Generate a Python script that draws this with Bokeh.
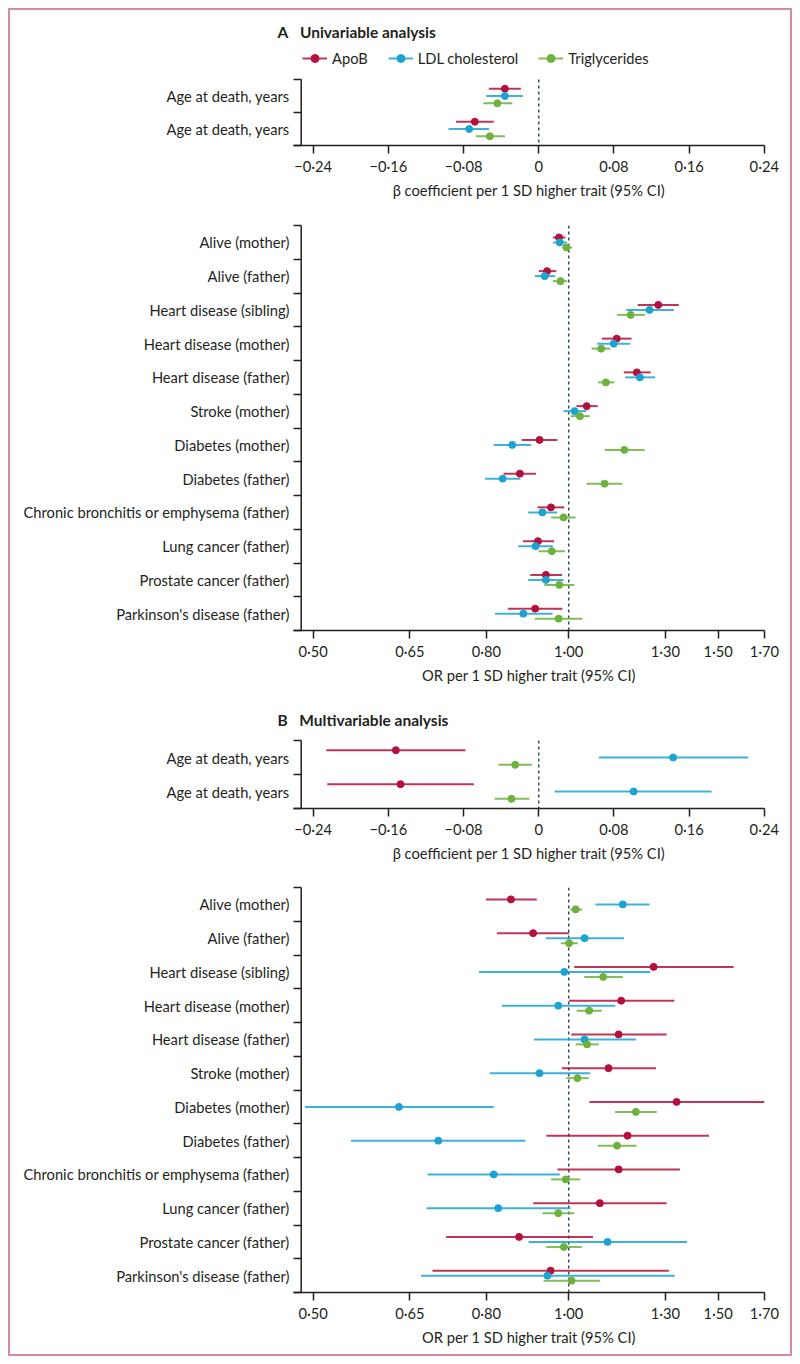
import math
from bokeh.plotting import figure
from bokeh.models import Range1d, FixedTicker, Legend, LegendItem, ColumnDataSource
from bokeh.layouts import column
from bokeh.embed import file_html
from bokeh.resources import INLINE

# ---------------- data ----------------
series_names = ["ApoB", "LDL cholesterol", "Triglycerides"]

age_categories = ["Age at death, years", "Age at death, years"]
or_categories = [
    "Alive (mother)", "Alive (father)", "Heart disease (sibling)",
    "Heart disease (mother)", "Heart disease (father)", "Stroke (mother)",
    "Diabetes (mother)", "Diabetes (father)",
    "Chronic bronchitis or emphysema (father)", "Lung cancer (father)",
    "Prostate cancer (father)", "Parkinson's disease (father)",
]

beta_ticks = [-0.24, -0.16, -0.08, 0.0, 0.08, 0.16, 0.24]
beta_tick_labels = ["−0·24", "−0·16", "−0·08", "0", "0·08", "0·16", "0·24"]
or_ticks = [0.5, 0.65, 0.8, 1.0, 1.3, 1.5, 1.7]
or_tick_labels = ["0·50", "0·65", "0·80", "1·00", "1·30", "1·50", "1·70"]

# A: univariable, age at death (beta)
uni_age_apob = [-0.036, -0.068]
uni_age_apob_lo = [-0.053, -0.088]
uni_age_apob_hi = [-0.019, -0.048]
uni_age_ldl = [-0.036, -0.074]
uni_age_ldl_lo = [-0.056, -0.096]
uni_age_ldl_hi = [-0.017, -0.053]
uni_age_tg = [-0.044, -0.052]
uni_age_tg_lo = [-0.059, -0.067]
uni_age_tg_hi = [-0.028, -0.036]

# A: univariable, odds ratios
uni_or_apob = [0.974, 0.943, 1.275, 1.139, 1.203, 1.050, 0.924, 0.876, 0.953, 0.920, 0.940, 0.913]
uni_or_apob_lo = [0.958, 0.922, 1.206, 1.094, 1.161, 1.021, 0.880, 0.838, 0.919, 0.883, 0.901, 0.848]
uni_or_apob_hi = [0.991, 0.967, 1.348, 1.186, 1.249, 1.082, 0.970, 0.915, 0.988, 0.961, 0.982, 0.983]
uni_or_ldl = [0.976, 0.937, 1.245, 1.130, 1.213, 1.016, 0.858, 0.836, 0.931, 0.914, 0.940, 0.884]
uni_or_ldl_lo = [0.958, 0.912, 1.169, 1.080, 1.166, 0.986, 0.816, 0.797, 0.896, 0.872, 0.896, 0.819]
uni_or_ldl_hi = [0.995, 0.964, 1.330, 1.182, 1.264, 1.049, 0.903, 0.877, 0.969, 0.958, 0.986, 0.957]
uni_or_tg = [0.994, 0.978, 1.183, 1.092, 1.106, 1.031, 1.163, 1.102, 0.986, 0.955, 0.975, 0.973]
uni_or_tg_lo = [0.983, 0.958, 1.140, 1.064, 1.083, 1.005, 1.103, 1.049, 0.953, 0.921, 0.936, 0.912]
uni_or_tg_hi = [1.009, 0.996, 1.230, 1.120, 1.132, 1.059, 1.229, 1.157, 1.019, 0.990, 1.015, 1.038]

# B: multivariable, age at death (beta)
multi_age_apob = [-0.152, -0.147]
multi_age_apob_lo = [-0.226, -0.225]
multi_age_apob_hi = [-0.078, -0.069]
multi_age_ldl = [0.143, 0.101]
multi_age_ldl_lo = [0.064, 0.017]
multi_age_ldl_hi = [0.223, 0.184]
multi_age_tg = [-0.025, -0.029]
multi_age_tg_lo = [-0.043, -0.047]
multi_age_tg_hi = [-0.007, -0.010]

# B: multivariable, odds ratios
multi_or_apob = [0.855, 0.908, 1.259, 1.153, 1.145, 1.114, 1.340, 1.173, 1.145, 1.088, 0.874, 0.952]
multi_or_apob_lo = [0.799, 0.823, 1.015, 1.001, 1.007, 0.982, 1.058, 0.941, 0.970, 0.908, 0.717, 0.691]
multi_or_apob_hi = [0.917, 1.001, 1.564, 1.332, 1.304, 1.267, 1.701, 1.463, 1.352, 1.304, 1.068, 1.312]
multi_or_ldl = [1.158, 1.044, 0.988, 0.972, 1.044, 0.924, 0.631, 0.702, 0.816, 0.826, 1.111, 0.944]
multi_or_ldl_lo = [1.075, 0.940, 0.784, 0.834, 0.910, 0.807, 0.489, 0.554, 0.682, 0.680, 0.897, 0.670]
multi_or_ldl_hi = [1.245, 1.162, 1.248, 1.135, 1.201, 1.060, 0.816, 0.889, 0.976, 1.005, 1.378, 1.333]
multi_or_tg = [1.019, 1.001, 1.098, 1.057, 1.051, 1.024, 1.200, 1.140, 0.992, 0.972, 0.987, 1.008]
multi_or_tg_lo = [1.004, 0.979, 1.043, 1.022, 1.019, 0.994, 1.134, 1.082, 0.953, 0.931, 0.941, 0.934]
multi_or_tg_hi = [1.037, 1.025, 1.158, 1.094, 1.085, 1.056, 1.270, 1.202, 1.032, 1.015, 1.036, 1.089]

# ---------------- style ----------------
FONT = "Lato"
FS = "14.7px"
TEXT = "#231f20"
COLORS = ["#b5103c", "#1ca3d3", "#6cb23c"]
DASH_COLOR = "#34505f"
BORDER = "#d78aa0"

FRAME_W = 471
LEFT = 283
RIGHT = 26


def make_panel(cats, data, kind, frame_h, top, bottom, offset_px,
               title=None, title_standoff=10, legend=False, extra_top_px=0):
    n = len(cats)
    if kind == "beta":
        x_start, x_end = -0.2609, 0.2402
        ticks, labels, ref = beta_ticks, beta_tick_labels, 0.0
        xtitle = "β coefficient per 1 SD higher trait (95% CI)"
        xtype = "linear"
    else:
        x_start, x_end = 0.4740, 1.7008
        ticks, labels, ref = or_ticks, or_tick_labels, 1.0
        xtitle = "OR per 1 SD higher trait (95% CI)"
        xtype = "log"

    unit_px = frame_h / (2 * n)          # pixels per y unit (2 units per row)
    extra_units = extra_top_px / unit_px
    p = figure(x_axis_type=xtype, x_range=Range1d(x_start, x_end),
               y_range=Range1d(2 * n, -extra_units),
               frame_width=FRAME_W, frame_height=frame_h + extra_top_px,
               min_border_left=LEFT, min_border_right=RIGHT,
               min_border_top=top, min_border_bottom=bottom,
               toolbar_location=None, output_backend="svg",
               outline_line_color=None, background_fill_color="white",
               border_fill_color="white")
    p.xgrid.visible = False
    p.ygrid.visible = False

    # reference line (x = 0 or OR = 1) and the offset vertical axis line
    if kind == "beta":
        yline = x_start + 7.7 * (x_end - x_start) / FRAME_W
    else:
        yline = math.exp(math.log(x_start) + 7.7 * (math.log(x_end) - math.log(x_start)) / FRAME_W)
    p.segment(x0=[ref], y0=[0], x1=[ref], y1=[2 * n], line_color=DASH_COLOR,
              line_width=1.5, line_dash="3 3")
    p.segment(x0=[yline], y0=[0], x1=[yline], y1=[2 * n], line_color=TEXT,
              line_width=1.5)

    off = offset_px / unit_px
    items = []
    for k, (name, color) in enumerate(zip(series_names, COLORS)):
        est, lo, hi = data[k]
        ys = [2 * i + 1 + (k - 1) * off for i in range(n)]
        src = ColumnDataSource(dict(est=est, lo=lo, hi=hi, y=ys))
        seg = p.segment(x0="lo", y0="y", x1="hi", y1="y", source=src,
                        line_color=color, line_width=2, line_alpha=0.85)
        dot = p.scatter(x="est", y="y", source=src, size=7,
                        fill_color=color, line_color=color)
        items.append(LegendItem(label=name, renderers=[seg, dot]))

    xa = p.xaxis[0]
    xa.ticker = FixedTicker(ticks=ticks, minor_ticks=[])
    xa.major_label_overrides = dict(zip(ticks, labels))
    xa.axis_line_color = TEXT
    xa.axis_line_width = 1.5
    xa.major_tick_line_color = TEXT
    xa.major_tick_line_width = 1.5
    xa.major_tick_in = 0
    xa.major_tick_out = 8
    xa.minor_tick_line_color = None
    xa.major_label_text_font = FONT
    xa.major_label_text_font_size = FS
    xa.major_label_text_color = TEXT
    xa.major_label_standoff = 3
    xa.axis_label = xtitle
    xa.axis_label_text_font = FONT
    xa.axis_label_text_font_size = FS
    xa.axis_label_text_font_style = "normal"
    xa.axis_label_text_color = TEXT
    xa.axis_label_standoff = 3

    ya = p.yaxis[0]
    centers = [2 * i + 1 for i in range(n)]
    bounds = [2 * i for i in range(n + 1)]
    ya.ticker = FixedTicker(ticks=centers, minor_ticks=bounds)
    ya.major_label_overrides = {c: lab for c, lab in zip(centers, cats)}
    ya.axis_line_color = None
    ya.major_tick_line_color = None
    ya.major_tick_in = 0
    ya.major_tick_out = 0
    ya.minor_tick_line_color = TEXT
    ya.minor_tick_line_width = 1.5
    ya.minor_tick_in = 8
    ya.minor_tick_out = 0
    ya.major_label_text_font = FONT
    ya.major_label_text_font_size = FS
    ya.major_label_text_color = TEXT
    ya.major_label_standoff = 4

    if title is not None:
        p.title.text = title
        p.title.text_font = FONT
        p.title.text_font_size = "15.5px"
        p.title.text_font_style = "bold"
        p.title.text_color = TEXT
        p.title.align = "left"
        p.title.offset = -16
        p.title.standoff = title_standoff

    if legend:
        lg = Legend(items=items, orientation="horizontal",
                    location=(9, frame_h + extra_top_px - 25),
                    glyph_width=25, glyph_height=20, label_height=20,
                    label_standoff=5, spacing=20,
                    padding=0, margin=0, border_line_color=None,
                    background_fill_alpha=0,
                    label_text_font=FONT, label_text_font_size=FS,
                    label_text_color=TEXT)
        p.add_layout(lg, "center")
    return p


def triple(a, alo, ahi, l, llo, lhi, t, tlo, thi):
    return [(a, alo, ahi), (l, llo, lhi), (t, tlo, thi)]


p1 = make_panel(age_categories,
                triple(uni_age_apob, uni_age_apob_lo, uni_age_apob_hi,
                       uni_age_ldl, uni_age_ldl_lo, uni_age_ldl_hi,
                       uni_age_tg, uni_age_tg_lo, uni_age_tg_hi),
                "beta", 66, 33, 62, 7.3, title="A\u2003Univariable analysis",
                title_standoff=5, legend=True, extra_top_px=36)
p2 = make_panel(or_categories,
                triple(uni_or_apob, uni_or_apob_lo, uni_or_apob_hi,
                       uni_or_ldl, uni_or_ldl_lo, uni_or_ldl_hi,
                       uni_or_tg, uni_or_tg_lo, uni_or_tg_hi),
                "or", 405, 18, 60, 5.0)
p3 = make_panel(age_categories,
                triple(multi_age_apob, multi_age_apob_lo, multi_age_apob_hi,
                       multi_age_ldl, multi_age_ldl_lo, multi_age_ldl_hi,
                       multi_age_tg, multi_age_tg_lo, multi_age_tg_hi),
                "beta", 68, 50, 60, 7.3, title="B\u2003Multivariable analysis",
                title_standoff=24)
p4 = make_panel(or_categories,
                triple(multi_or_apob, multi_or_apob_lo, multi_or_apob_hi,
                       multi_or_ldl, multi_or_ldl_lo, multi_or_ldl_hi,
                       multi_or_tg, multi_or_tg_lo, multi_or_tg_hi),
                "or", 405, 19, 62, 5.0)

layout = column(p1, p2, p3, p4, spacing=0,
                styles={"position": "absolute", "left": "8px", "top": "8px",
                        "border": f"2px solid {BORDER}", "box-sizing": "content-box",
                        "background-color": "white"})

open("out.html", "w").write(file_html(layout, INLINE))
